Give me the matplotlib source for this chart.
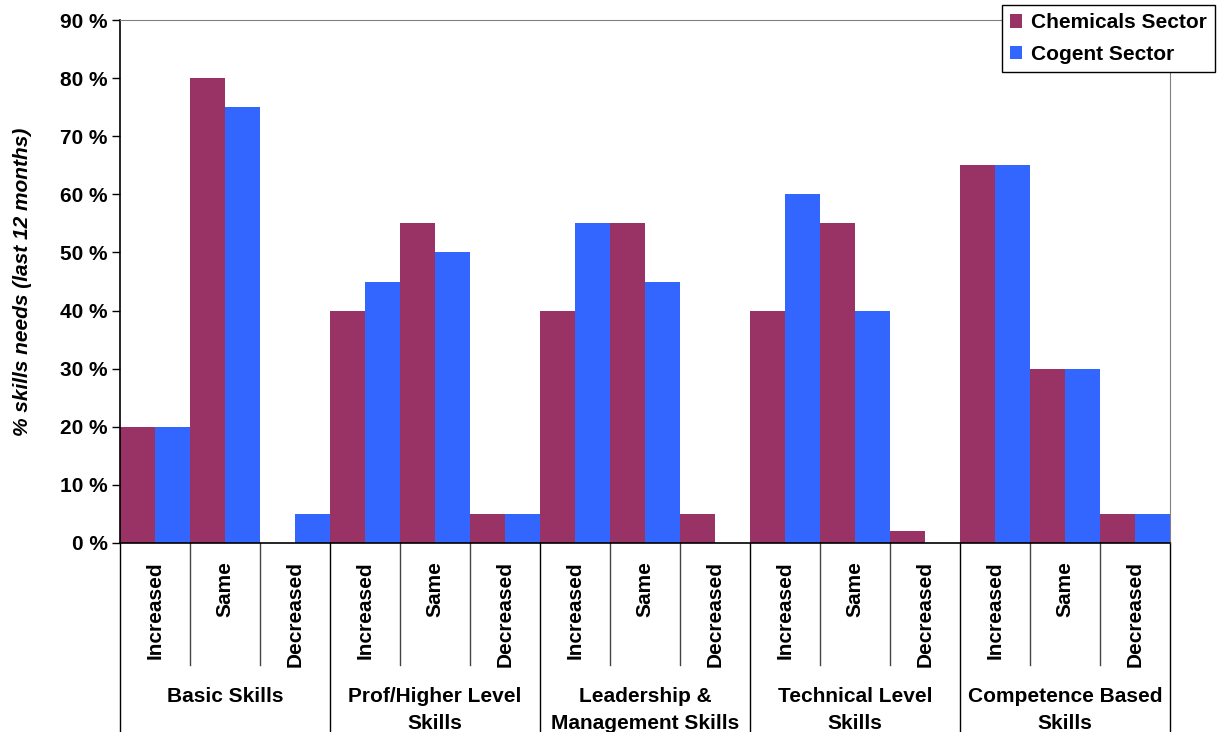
import matplotlib.pyplot as plt
import matplotlib.transforms as mtransforms
import numpy as np

plt.rcParams['font.family'] = ['Liberation Sans', 'DejaVu Sans']
plt.rcParams['font.weight'] = 'bold'

groups = ["Basic Skills", "Prof/Higher Level\nSkills", "Leadership &\nManagement Skills",
          "Technical Level\nSkills", "Competence Based\nSkills"]
changes = ["Increased", "Same", "Decreased"]
chemicals = [20, 80, 0, 40, 55, 5, 40, 55, 5, 40, 55, 2, 65, 30, 5]
cogent = [20, 75, 5, 45, 50, 5, 55, 45, 0, 60, 40, 0, 65, 30, 5]
yticks = [0, 10, 20, 30, 40, 50, 60, 70, 80, 90]

FS = 15
W, H = 1217, 732
fig = plt.figure(figsize=(W / 100, H / 100), dpi=100)
ax = fig.add_axes([120 / W, (H - 543) / H, 1050 / W, 523 / H])

x = np.arange(len(chemicals))
ax.bar(x - 0.25, chemicals, width=0.5, color="#993366", label="Chemicals Sector")
ax.bar(x + 0.25, cogent, width=0.5, color="#3366FF", label="Cogent Sector")

ax.set_xlim(-0.5, len(chemicals) - 0.5)
ax.set_ylim(0, 90)
ax.set_yticks(yticks)
ax.set_yticklabels([f"{v} %" for v in yticks], fontsize=FS, fontweight="bold")
ax.tick_params(axis="y", direction="out", length=6, width=1, pad=3)
ax.set_xticks([])

for s in ["top", "right"]:
    ax.spines[s].set_color("#808080")
for s in ["left", "bottom"]:
    ax.spines[s].set_color("black")
    ax.spines[s].set_linewidth(1.2)

ax.set_ylabel("% skills needs (last 12 months)", fontsize=FS, fontweight="bold",
              fontstyle="italic")
ax.yaxis.set_label_coords(-88 / 1050, 0.5)

# two-level category axis below the bars
trans = mtransforms.blended_transform_factory(ax.transData, ax.transAxes)
short_y = -(665 - 543) / 523
long_y = -(732 - 543) / 523
for i in range(len(chemicals)):
    ax.text(i, -(561 - 543) / 523, changes[i % 3], rotation=90, ha="center", va="top",
            fontsize=FS, fontweight="bold", transform=trans)
for b in range(len(chemicals) + 1):
    edge = b - 0.5
    y_end = long_y if b % 3 == 0 else short_y
    color = "black" if b % 3 == 0 else "#444444"
    ax.plot([edge, edge], [0, y_end], color=color, lw=1, transform=trans, clip_on=False)
for g, name in enumerate(groups):
    ax.text(3 * g + 1, -(687 - 543) / 523, name, ha="center", va="top", fontsize=FS,
            fontweight="bold", linespacing=1.55, transform=trans)

fig.legend(loc="upper right", bbox_to_anchor=(1215 / W, 1 - 5 / H), fontsize=FS,
           frameon=True, fancybox=False, edgecolor="black", framealpha=1,
           handlelength=0.6, handleheight=0.6, handletextpad=0.4,
           borderpad=0.4, labelspacing=0.6, borderaxespad=0)

fig.savefig("out.png", dpi=100)
